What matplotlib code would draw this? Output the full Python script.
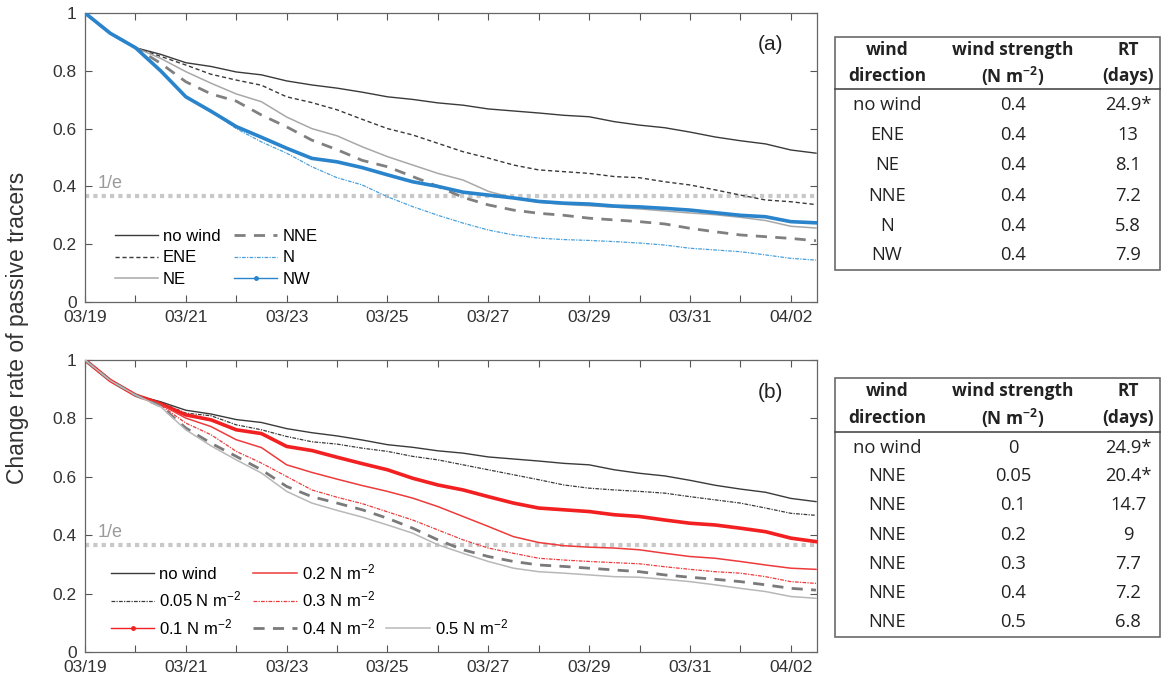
import numpy as np
import pandas as pd
import matplotlib.pyplot as plt
from matplotlib.lines import Line2D
from matplotlib.patches import Rectangle

plt.rcParams['font.family'] = ['Liberation Sans', 'DejaVu Sans']
plt.rcParams['mathtext.default'] = 'regular'

# time axis: days since 03/19, sampled every half day
days = np.arange(0, 14.51, 0.5)
dates = pd.date_range('2017-03-19', '2017-04-02', freq='D')
date_labels = [d.strftime('%m/%d') if i % 2 == 0 else '' for i, d in enumerate(dates)]

# (a) wind direction runs, 0.4 N m-2
a_nowind = [1.0, .93, .88, .857, .828, .815, .796, .786, .765, .751, .740, .726, .710, .701, .689, .681,
            .668, .661, .654, .646, .641, .624, .612, .603, .588, .571, .558, .547, .526, .515]
a_ene = [1.0, .93, .88, .85, .82, .788, .768, .75, .71, .69, .665, .632, .60, .578, .549, .52,
         .498, .474, .457, .451, .445, .434, .430, .416, .405, .388, .370, .353, .347, .337]
a_ne = [1.0, .93, .88, .843, .797, .757, .72, .693, .64, .60, .575, .537, .503, .474, .445, .422,
        .383, .36, .345, .338, .333, .328, .322, .315, .308, .302, .293, .282, .262, .256]
a_nne = [1.0, .93, .88, .826, .762, .72, .695, .647, .606, .56, .527, .49, .468, .434, .40, .362,
         .336, .318, .307, .30, .29, .284, .278, .27, .255, .243, .232, .226, .22, .212]
a_n = [1.0, .93, .88, .80, .71, .66, .60, .554, .515, .468, .43, .405, .364, .33, .30, .273,
       .249, .232, .221, .216, .213, .209, .204, .197, .186, .18, .174, .163, .151, .145]
a_nw = [1.0, .93, .88, .80, .71, .66, .607, .57, .532, .497, .485, .465, .44, .416, .40, .38,
        .37, .36, .348, .342, .339, .332, .329, .324, .318, .309, .30, .295, .278, .274]

# (b) NNE wind of increasing strength
b_nowind = a_nowind
b_005 = [1.0, .93, .88, .855, .818, .809, .778, .761, .738, .72, .712, .698, .687, .67, .658, .641,
         .624, .607, .59, .572, .561, .555, .55, .544, .532, .521, .51, .493, .475, .468]
b_01 = [1.0, .93, .88, .85, .812, .795, .761, .748, .704, .69, .667, .645, .624, .595, .572, .555,
        .532, .51, .493, .487, .481, .47, .464, .452, .441, .435, .424, .412, .39, .378]
b_02 = [1.0, .93, .88, .848, .801, .772, .727, .70, .641, .615, .592, .57, .55, .527, .498, .464,
        .43, .395, .375, .364, .359, .356, .35, .338, .327, .321, .31, .298, .287, .283]
b_03 = [1.0, .93, .88, .845, .784, .744, .687, .647, .601, .555, .53, .508, .48, .452, .418, .384,
        .356, .338, .321, .315, .31, .306, .302, .292, .283, .275, .27, .258, .241, .235]
b_04 = [1.0, .93, .88, .842, .767, .715, .67, .624, .567, .532, .51, .487, .458, .424, .384, .35,
        .327, .31, .298, .293, .287, .281, .275, .264, .256, .249, .241, .23, .218, .212]
b_05 = [1.0, .93, .88, .84, .761, .706, .658, .613, .55, .51, .485, .462, .435, .407, .367, .338,
        .31, .287, .275, .27, .264, .258, .256, .249, .241, .23, .218, .207, .19, .184]

# tables
tab_a_dir = ['no wind', 'ENE', 'NE', 'NNE', 'N', 'NW']
tab_a_str = ['0.4', '0.4', '0.4', '0.4', '0.4', '0.4']
tab_a_rt = ['24.9*', '13', '8.1', '7.2', '5.8', '7.9']
tab_b_dir = ['no wind', 'NNE', 'NNE', 'NNE', 'NNE', 'NNE', 'NNE']
tab_b_str = ['0', '0.05', '0.1', '0.2', '0.3', '0.4', '0.5']
tab_b_rt = ['24.9*', '20.4*', '14.7', '9', '7.7', '7.2', '6.8']

W, H = 1166, 686
fig = plt.figure(figsize=(W / 100, H / 100), dpi=100)
ax1 = fig.add_axes([85 / W, 1 - 302 / H, 732 / W, 289 / H])
ax2 = fig.add_axes([85 / W, 1 - 652 / H, 732 / W, 292 / H])

blue = '#2a84cc'
red = '#f22020'
series_a = [
    (a_nowind, 'no wind', dict(color='#3a3a3a', lw=1.0)),
    (a_ene, 'ENE', dict(color='#3a3a3a', lw=1.0, ls=(0, (3, 2)))),
    (a_ne, 'NE', dict(color='#a8a8a8', lw=1.1)),
    (a_nne, 'NNE', dict(color='#808080', lw=2.0, ls=(0, (4, 3)))),
    (a_n, 'N', dict(color='#4aa0dc', lw=0.9, ls=(0, (3, 1, 1, 1)))),
    (a_nw, 'NW', dict(color=blue, lw=2.6)),
]
series_b = [
    (b_nowind, 'no wind', dict(color='#3a3a3a', lw=1.0)),
    (b_005, '0.05 N m$^{-2}$', dict(color='#3a3a3a', lw=0.9, ls=(0, (3, 1, 1, 1)))),
    (b_01, '0.1 N m$^{-2}$', dict(color=red, lw=2.6)),
    (b_02, '0.2 N m$^{-2}$', dict(color='#ee3a3a', lw=1.1)),
    (b_03, '0.3 N m$^{-2}$', dict(color='#ee3a3a', lw=0.9, ls=(0, (3, 1, 1, 1)))),
    (b_04, '0.4 N m$^{-2}$', dict(color='#7a7a7a', lw=2.0, ls=(0, (4, 3)))),
    (b_05, '0.5 N m$^{-2}$', dict(color='#b8b8b8', lw=1.1)),
]


def draw_panel(ax, series, tag):
    handles = []
    for vals, lab, st in series:
        ax.plot(days, vals, zorder=3, **st)
        hst = dict(st)
        if hst['lw'] > 2.5:
            # marker-line style shows as thin line with a dot in the legend
            hst.update(lw=1.0, marker='.', ms=5)
        handles.append(Line2D([], [], label=lab, **hst))
    ax.axhline(1 / np.e, color='#c8c8c8', lw=3, ls=(0, (1, 1)), zorder=1)
    ax.text(0.25, 1 / np.e + 0.012, '1/e', color='#9a9a9a', fontsize=13, va='bottom')
    ax.text(0.936, 0.89, tag, transform=ax.transAxes, fontsize=15, ha='center', va='center', color='#222222')
    ax.set_xlim(0, 14.52)
    ax.set_ylim(0, 1)
    ax.set_xticks(np.arange(len(dates)))
    ax.set_xticklabels(date_labels)
    ax.set_yticks([0, 0.2, 0.4, 0.6, 0.8, 1])
    ax.set_yticklabels(['0', '0.2', '0.4', '0.6', '0.8', '1'])
    ax.tick_params(direction='in', length=5, width=0.8, top=True, right=True,
                   labelsize=12.5, colors='#555555', labelcolor='#333333', pad=6)
    for s in ax.spines.values():
        s.set_color('#666666')
        s.set_linewidth(0.9)
    return handles


h1 = draw_panel(ax1, series_a, '(a)')
h2 = draw_panel(ax2, series_b, '(b)')

ax1.legend(handles=h1, ncol=2, loc='lower left', bbox_to_anchor=(0.02, 0.0), frameon=False,
           fontsize=12, handlelength=2.6, handletextpad=0.3, columnspacing=0.8, labelspacing=0.4)

# two hidden entries push the 0.5 entry down to the last row of the third column
blank = Line2D([], [], color='none', label='0 N m$^{-2}$')
h2 = h2[:6] + [blank, blank] + h2[6:]
leg2 = ax2.legend(handles=h2, ncol=3, loc='lower left', bbox_to_anchor=(0.015, 0.0), frameon=False,
                  fontsize=12, handlelength=2.6, handletextpad=0.3, columnspacing=0.7, labelspacing=0.45)
for t in leg2.get_texts()[6:8]:
    t.set_color('none')

fig.text(18 / W, 1 - 328 / H, 'Change rate of passive tracers', rotation=90, ha='center', va='center',
         fontsize=16.5, color='#333333')

# tables on an overlay axis in pixel units
tx = fig.add_axes([0, 0, 1, 1])
tx.set_xlim(0, W)
tx.set_ylim(H, 0)
tx.axis('off')
tfont = dict(family=['Open Sans', 'DejaVu Sans'], color='#222222', ha='center', va='center')
cols = [887, 1013, 1128]


def draw_table(top, bottom, line_y, head_y, rows_y, d, s, r):
    tx.add_patch(Rectangle((835, top), 325, bottom - top, fill=False, ec='#6a6a6a', lw=1.2))
    tx.plot([835, 1160], [line_y, line_y], color='#4a4a4a', lw=1.2)
    heads = [('wind', 'direction'), ('wind strength', r'(N m$^{-2}$)'), ('RT', '(days)')]
    for x, (l1, l2) in zip(cols, heads):
        tx.text(x, head_y[0], l1, fontweight='bold', fontsize=12.5, **tfont)
        tx.text(x, head_y[1], l2, fontweight='bold', fontsize=12.5, **tfont)
    for y, a, b, c in zip(rows_y, d, s, r):
        tx.text(cols[0], y, a, fontsize=13.2, **tfont)
        tx.text(cols[1], y, b, fontsize=13.2, **tfont)
        tx.text(cols[2], y, c, fontsize=13.2, **tfont)


draw_table(37, 270, 89, (50, 76), [105, 135, 165, 196, 226, 255], tab_a_dir, tab_a_str, tab_a_rt)
draw_table(378, 637, 432, (391, 418), [448, 476, 505, 535, 564, 593, 622], tab_b_dir, tab_b_str, tab_b_rt)

fig.savefig('out.png', dpi=100)
